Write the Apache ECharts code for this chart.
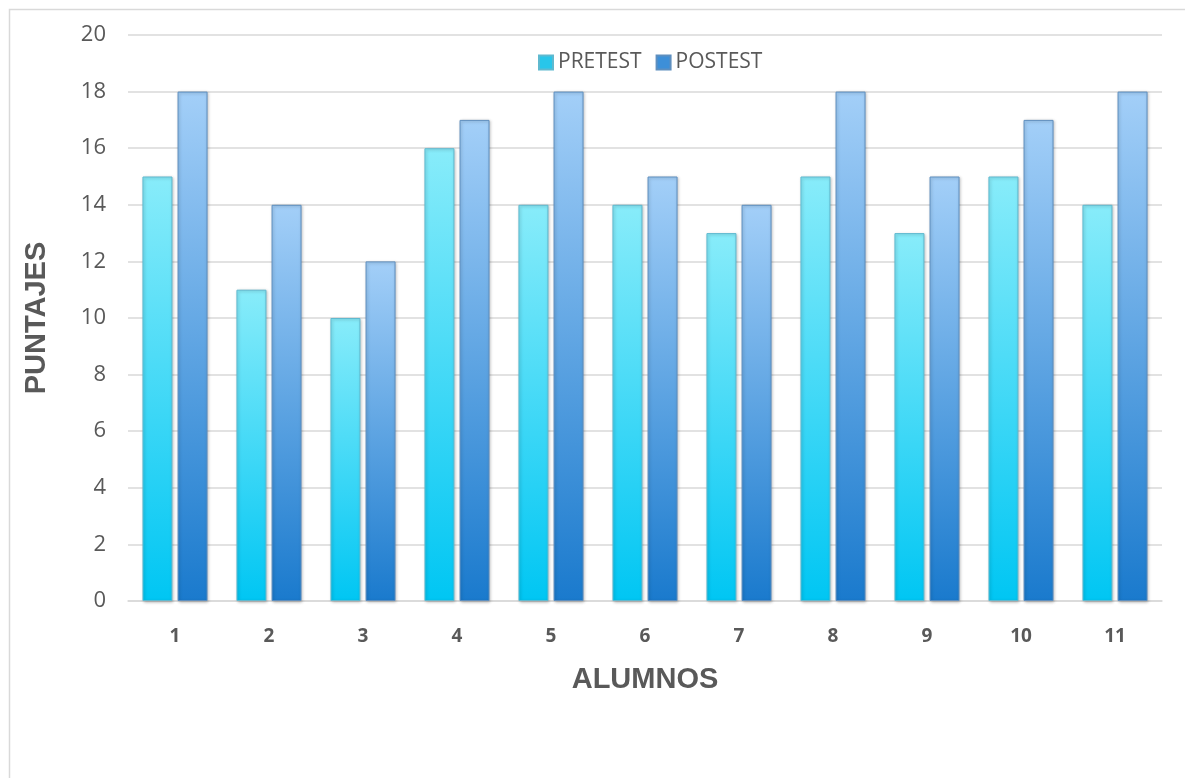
<!DOCTYPE html>
<html>
<head>
<meta charset="utf-8">
<script src="https://cdn.jsdelivr.net/npm/echarts@6/dist/echarts.min.js"></script>
<style>html,body{margin:0;padding:0;background:#fff}#c{width:1185px;height:778px}</style>
</head>
<body>
<div id="c"></div>
<script>
const categories = ['1','2','3','4','5','6','7','8','9','10','11'];
const pretest = [15, 11, 10, 16, 14, 14, 13, 15, 13, 15, 14];
const postest = [18, 14, 12, 17, 18, 15, 14, 18, 15, 17, 18];
const yTicks = { min: 0, max: 20, interval: 2 };

const font = '"Open Sans", "Noto Sans", sans-serif';
function grad(top, bottom) {
  return new echarts.graphic.LinearGradient(0, 0, 0, 1, [
    { offset: 0, color: top }, { offset: 1, color: bottom }
  ]);
}
const chart = echarts.init(document.getElementById('c'));
chart.setOption({
  animation: false,
  backgroundColor: '#fff',
  graphic: [{
    type: 'rect', left: 7, top: 7, shape: { width: 1200, height: 800 },
    style: { fill: 'none', stroke: '#d9d9d9', lineWidth: 1.5 }, silent: true
  }],
  legend: {
    top: 47, left: 533, itemWidth: 14, itemHeight: 14, itemGap: 14,
    textStyle: { fontFamily: font, fontSize: 21, color: '#595959' },
    data: [
      { name: 'PRETEST', icon: 'rect', itemStyle: { color: '#28c6ea' } },
      { name: 'POSTEST', icon: 'rect', itemStyle: { color: '#3d8fd8' } }
    ]
  },
  grid: { left: 128, right: 23, top: 35, bottom: 177 },
  xAxis: {
    type: 'category', data: categories,
    name: 'ALUMNOS', nameLocation: 'middle', nameGap: 64,
    nameTextStyle: { fontFamily: 'Liberation Sans, Arial, sans-serif', fontSize: 29, fontWeight: 'bold', color: '#595959' },
    axisLine: { lineStyle: { color: '#d9d9d9', width: 1.5 } },
    axisTick: { show: false },
    axisLabel: { fontFamily: font, fontSize: 19, fontWeight: 'bold', color: '#595959', margin: 26 }
  },
  yAxis: {
    type: 'value', min: yTicks.min, max: yTicks.max, interval: yTicks.interval,
    name: 'PUNTAJES', nameLocation: 'middle', nameGap: 77, nameRotate: 90,
    nameTextStyle: { fontFamily: 'Liberation Sans, Arial, sans-serif', fontSize: 29, fontWeight: 'bold', color: '#595959' },
    axisLine: { show: false }, axisTick: { show: false },
    axisLabel: { fontFamily: font, fontSize: 22, color: '#595959', margin: 22 },
    splitLine: { lineStyle: { color: '#d9d9d9', width: 1.5 } }
  },
  series: [
    {
      name: 'PRETEST', type: 'bar', data: pretest, barWidth: 30, barGap: '17%',
      itemStyle: { color: grad('#88ecfa', '#00c6f3'), borderColor: '#5fb9cf', borderWidth: 1,
        shadowColor: 'rgba(0,0,0,0.25)', shadowBlur: 3, shadowOffsetX: 1, shadowOffsetY: 1 }
    },
    {
      name: 'POSTEST', type: 'bar', data: postest, barWidth: 30,
      itemStyle: { color: grad('#a3cff8', '#1a7acd'), borderColor: '#5e8fbf', borderWidth: 1,
        shadowColor: 'rgba(0,0,0,0.25)', shadowBlur: 3, shadowOffsetX: 1, shadowOffsetY: 1 }
    }
  ]
});
</script>
</body>
</html>
